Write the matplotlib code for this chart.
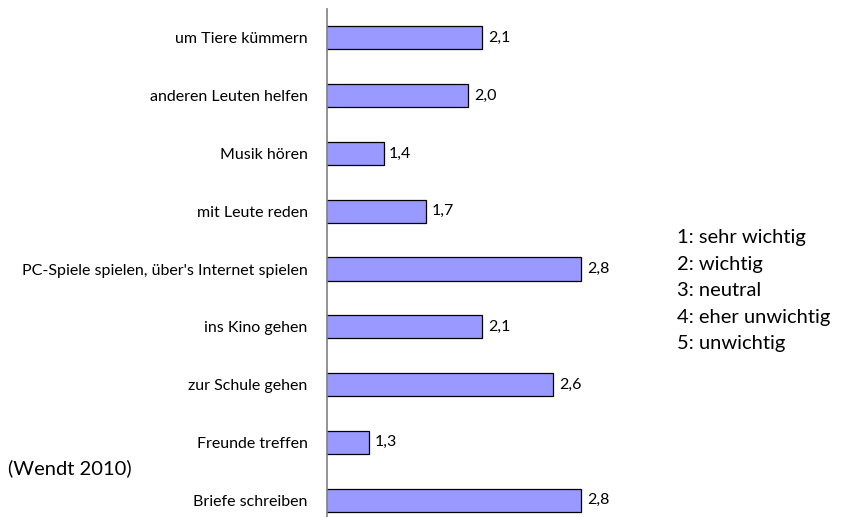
import matplotlib

matplotlib.use("Agg")
import matplotlib.pyplot as plt

plt.rcParams["font.family"] = ["Lato", "DejaVu Sans"]

categories = [
    "um Tiere kümmern",
    "anderen Leuten helfen",
    "Musik hören",
    "mit Leute reden",
    "PC-Spiele spielen, über's Internet spielen",
    "ins Kino gehen",
    "zur Schule gehen",
    "Freunde treffen",
    "Briefe schreiben",
]
values = [2.1, 2.0, 1.4, 1.7, 2.8, 2.1, 2.6, 1.3, 2.8]
scale_labels = ["1: sehr wichtig", "2: wichtig", "3: neutral", "4: eher unwichtig", "5: unwichtig"]
source = "(Wendt 2010)"

W, H = 842, 517
fig = plt.figure(figsize=(W / 100, H / 100), dpi=100)
# axes placed in pixel terms: left spine at x=327, top at y=9, bottom past the image
left_px, top_px, bottom_px, width_px = 327, 9, 529, 424
ax = fig.add_axes([left_px / W, (H - bottom_px) / H, width_px / W, (bottom_px - top_px) / H])

y = list(range(len(categories)))
ax.barh(y, values, height=0.4, color="#9999ff", edgecolor="black", linewidth=0.9)
for yi, v in zip(y, values):
    ax.text(v + 0.04, yi, f"{v:.1f}".replace(".", ","), va="center", ha="left", fontsize=11.5)

ax.set_xlim(1, 4)
ax.set_ylim(len(categories) - 0.5, -0.5)
ax.set_yticks(y)
ax.set_yticklabels(categories, fontsize=11.5)
ax.tick_params(axis="y", length=0, pad=14)
ax.set_xticks([])
for side in ("top", "right", "bottom"):
    ax.spines[side].set_visible(False)
ax.spines["left"].set_color("#808080")
ax.spines["left"].set_linewidth(1.2)

fig.text(677 / W, 1 - 229 / H, "\n".join(scale_labels), fontsize=14.5, va="top", ha="left", linespacing=1.68)
fig.text(8 / W, 1 - 468 / H, source, fontsize=14.5, va="center", ha="left")

fig.savefig("out.png", dpi=100)
